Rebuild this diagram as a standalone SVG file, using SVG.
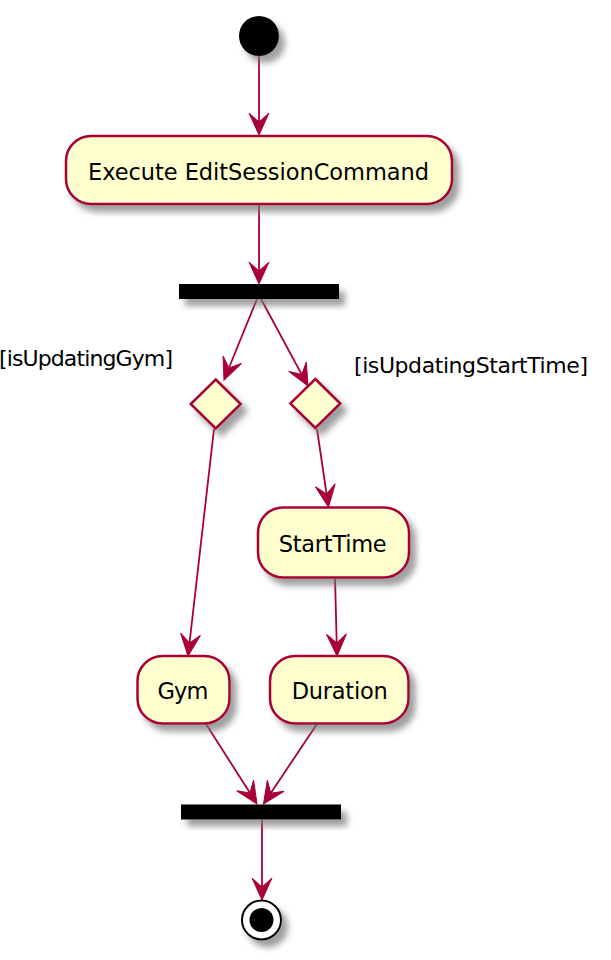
<svg xmlns="http://www.w3.org/2000/svg" width="611" height="960" viewBox="0 0 611 960">
<style>
.act{fill:#FEFECE;stroke:#A80036;stroke-width:2.5;filter:url(#sh)}
.bar{fill:#000;filter:url(#sh)}
.t{font-family:"DejaVu Sans",Verdana,sans-serif;font-size:22.5px;fill:#000}
.lb{font-size:22px}
.c{text-anchor:middle}
.ln{stroke:#A80036;stroke-width:1.8;fill:none;marker-end:url(#ah)}
</style>
<defs>
<filter id="sh" x="-30%" y="-30%" width="180%" height="200%">
<feDropShadow dx="6" dy="7" stdDeviation="3" flood-color="#777" flood-opacity="0.7"/>
</filter>
<marker id="ah" markerUnits="userSpaceOnUse" markerWidth="24" markerHeight="22" viewBox="0 -11 23 22" refX="9" refY="0" orient="auto">
<path d="M0,-10 L22,0 L0,10 L9,0 Z" fill="#A80036" stroke="#A80036" stroke-width="1"/>
</marker>
</defs>
<rect width="611" height="960" fill="#fff"/>
<g id="connectors">
<line class="ln" x1="259" y1="56" x2="259" y2="122"/>
<line class="ln" x1="259" y1="204" x2="259" y2="271"/>
<line class="ln" x1="257" y1="299" x2="228.9" y2="368"/>
<line class="ln" x1="261" y1="299" x2="301.8" y2="374.6"/>
<line class="ln" x1="214" y1="429" x2="189.5" y2="643.1"/>
<line class="ln" x1="317" y1="429" x2="326.6" y2="494.1"/>
<line class="ln" x1="335" y1="577" x2="336.7" y2="643"/>
<line class="ln" x1="206" y1="724" x2="250" y2="793"/>
<line class="ln" x1="317" y1="724" x2="270.7" y2="793.2"/>
<line class="ln" x1="262" y1="820" x2="262" y2="887"/>
</g>
<g id="start">
<circle cx="259" cy="36" r="20" fill="#000" filter="url(#sh)"/>
</g>
<g id="execute">
<rect class="act" x="66" y="136" width="386" height="68" rx="25" ry="25"/>
<text class="t c" x="258.5" y="180" textLength="341">Execute EditSessionCommand</text>
</g>
<g id="fork1">
<rect class="bar" x="179" y="284" width="160" height="15"/>
</g>
<g id="label-gym">
<text class="t lb" x="-1" y="365.5" textLength="174">[isUpdatingGym]</text>
</g>
<g id="label-starttime">
<text class="t lb" x="354" y="373.3" textLength="234">[isUpdatingStartTime]</text>
</g>
<g id="decision-gym">
<polygon class="act" points="215.7,379.5 240.7,404 215.7,428.5 190.7,404"/>
</g>
<g id="decision-starttime">
<polygon class="act" points="315.3,379 340.3,403.5 315.3,428 290.3,403.5"/>
</g>
<g id="starttime">
<rect class="act" x="258" y="507.5" width="151" height="70" rx="25" ry="25"/>
<text class="t c" x="332.7" y="551.7" textLength="108">StartTime</text>
</g>
<g id="gym">
<rect class="act" x="137.5" y="656" width="92" height="67.5" rx="25" ry="25"/>
<text class="t c" x="183" y="699" textLength="51">Gym</text>
</g>
<g id="duration">
<rect class="act" x="270" y="656" width="138.5" height="67.5" rx="25" ry="25"/>
<text class="t c" x="339.7" y="699" textLength="96">Duration</text>
</g>
<g id="join">
<rect class="bar" x="181" y="804.5" width="160" height="15"/>
</g>
<g id="end">
<circle cx="261.5" cy="920" r="19.5" fill="#fff" stroke="#000" stroke-width="2" filter="url(#sh)"/>
<circle cx="261.5" cy="920" r="12" fill="#000"/>
</g>
</svg>
